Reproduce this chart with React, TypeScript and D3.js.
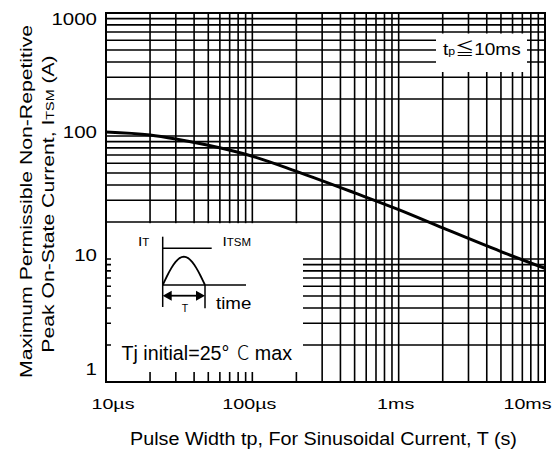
import { useEffect } from 'react'
import * as d3 from 'd3'

// Surge current vs pulse width (sinusoidal)
const pulseWidth = [1e-5, 2e-5, 3e-5, 5e-5, 1e-4, 2e-4, 5e-4, 1e-3, 2e-3, 5e-3, 1e-2]
const itsm = [108, 102, 94.6, 84, 68.5, 51.6, 34.5, 25.2, 17.9, 11.5, 8.4]

const xTicks = [1e-5, 1e-4, 1e-3, 1e-2]
const xTickLabels = ['10µs', '100µs', '1ms', '10ms']
const yTicks = [1, 10, 100, 1000]
const yTickLabels = ['1', '10', '100', '1000']

const FONT = "'Liberation Sans', Arial, 'Noto Sans CJK JP', sans-serif"

const W = 555,
  H = 450
const margin = { top: 13, right: 10, bottom: 68, left: 106 }

type TxtProps = {
  x: number
  y: number
  size: number
  sx?: number
  rotate?: number
  anchor?: string
  children: any
}

const Txt = ({ x, y, size, sx = 1, rotate = 0, anchor = 'start', children }: TxtProps) => (
  <text
    transform={`translate(${x},${y}) rotate(${rotate}) scale(${sx},1)`}
    fontSize={size}
    fontFamily={FONT}
    textAnchor={anchor}
    fill="#000"
  >
    {children}
  </text>
)

export default function App() {
  useEffect(() => {
    document.body.style.margin = '0'
  }, [])

  const x = d3.scaleLog().domain([1e-5, 1e-2]).range([margin.left, W - margin.right])
  const y = d3.scaleLog().domain([1, 1000]).range([H - margin.bottom, margin.top])
  const [x0, x1] = x.range()
  const [y0, y1] = [y(1), y(1000)]

  // minor + major grid values
  const xGrid: number[] = []
  for (let d = 1e-5; d < 1e-2 * 1.01; d *= 10) for (let k = 1; k <= 9; k++) if (d * k <= 1e-2 * 1.0001) xGrid.push(d * k)
  const yGrid: number[] = []
  for (let d = 1; d < 1000 * 1.01; d *= 10) for (let k = 1; k <= 9; k++) if (d * k <= 1000.01) yGrid.push(d * k)

  const curve = d3
    .line<number>()
    .x((_, i) => x(pulseWidth[i]))
    .y((d) => y(d))
    .curve(d3.curveMonotoneX)(itsm)

  // inset (waveform sketch) box
  const inset = { left: 111, right: 303, top: y(20) + 1.2, bottom: 372 }
  const noteBox = { left: 436, right: 527, top: 33.5, bottom: 72 }

  // half-sine in the inset
  const sx0 = 162.7,
    sx1 = 205,
    sBase = 285,
    sTop = 256.7
  const sine = d3
    .line<number>()
    .x((t) => sx0 + (sx1 - sx0) * t)
    .y((t) => sBase - (sBase - sTop) * Math.sin(Math.PI * t))(d3.range(0, 1.001, 0.05))

  const clampX = (v: number) => Math.max(113, Math.min(527.5, v))
  const clampY = (v: number) => Math.max(19.5, Math.min(369, v))

  return (
    <svg
      width={W}
      height={H}
      style={{ display: 'block', position: 'absolute', left: 0, top: 0, background: '#fff' }}
    >
      <rect width={W} height={H} fill="#fff" />
      <g stroke="#000" strokeWidth={1.6}>
        {xGrid.map((v) => (
          <line key={'x' + v} x1={x(v)} x2={x(v)} y1={y0} y2={y1} />
        ))}
        {yGrid.map((v) => (
          <line key={'y' + v} x1={x0} x2={x1} y1={y(v)} y2={y(v)} />
        ))}
      </g>
      <rect
        x={inset.left}
        y={inset.top}
        width={inset.right - inset.left}
        height={inset.bottom - inset.top}
        fill="#fff"
      />
      <rect
        x={noteBox.left}
        y={noteBox.top}
        width={noteBox.right - noteBox.left}
        height={noteBox.bottom - noteBox.top}
        fill="#fff"
      />
      <path d={curve ?? ''} fill="none" stroke="#000" strokeWidth={3} />
      <rect x={x0} y={y1} width={x1 - x0} height={y0 - y1} fill="none" stroke="#000" strokeWidth={2} />

      {/* tick labels */}
      {xTicks.map((v, i) => (
        <Txt key={'xt' + v} x={clampX(x(v) - 3)} y={409} size={15.5} sx={1.27} anchor="middle">
          {xTickLabels[i]}
        </Txt>
      ))}
      {yTicks.map((v, i) => (
        <Txt key={'yt' + v} x={97} y={clampY(y(v) - 4) + 5.5} size={16} sx={1.28} anchor="end">
          {yTickLabels[i]}
        </Txt>
      ))}

      {/* axis titles */}
      <Txt x={323.5} y={445} size={17.5} sx={1.13} anchor="middle">
        Pulse Width tp, For Sinusoidal Current, T (s)
      </Txt>
      <Txt x={32} y={201.5} size={16.3} sx={1.3} rotate={-90} anchor="middle">
        Maximum Permissible Non-Repetitive
      </Txt>
      <Txt x={54} y={204} size={16.3} sx={1.3} rotate={-90} anchor="middle">
        Peak On-State Current, I<tspan fontSize={11}>TSM</tspan> (A)
      </Txt>

      {/* condition note */}
      <Txt x={443} y={55} size={17} sx={1.12}>
        t<tspan fontSize={11}>p</tspan>≦10ms
      </Txt>

      {/* inset waveform sketch */}
      <g stroke="#000" strokeWidth={1.5} fill="none">
        <line x1={sx0} x2={sx0} y1={236.7} y2={307} />
        <line x1={sx0} x2={211.7} y1={248.3} y2={248.3} />
        <line x1={sx0} x2={246} y1={sBase} y2={sBase} />
        <line x1={sx1} x2={sx1} y1={sBase} y2={308.3} />
        <path d={sine ?? ''} strokeWidth={1.8} />
        <line x1={sx0 + 6} x2={sx1 - 6} y1={295.7} y2={295.7} strokeWidth={1.8} />
      </g>
      <path
        d={`M${sx0},295.7 L${sx0 + 9},290.7 L${sx0 + 9},300.7 Z M${sx1},295.7 L${sx1 - 9},290.7 L${sx1 - 9},300.7 Z`}
        fill="#000"
      />
      <Txt x={138} y={246} size={13.5} sx={1.15}>
        I<tspan fontSize={10}>T</tspan>
      </Txt>
      <Txt x={222.5} y={246} size={13.5} sx={1.15}>
        I<tspan fontSize={10}>TSM</tspan>
      </Txt>
      <Txt x={185} y={312} size={10.5} anchor="middle">
        T
      </Txt>
      <Txt x={216} y={308.5} size={16} sx={1.17}>
        time
      </Txt>
      <Txt x={121.5} y={360} size={20.5} sx={0.96}>
        Tj initial=25°
        <tspan dx={8} fontWeight={300} fontFamily="'Noto Sans CJK JP', sans-serif">
          C
        </tspan>{' '}
        max
      </Txt>
    </svg>
  )
}
